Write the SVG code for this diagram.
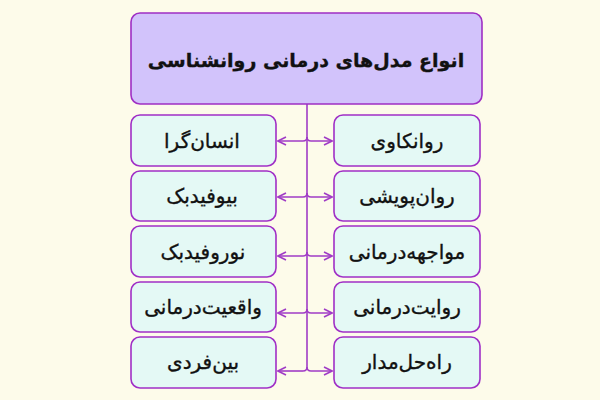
<svg xmlns="http://www.w3.org/2000/svg" width="600" height="400" viewBox="0 0 600 400">
<style>
.title rect{fill:#d2c3fb;stroke:#9f2fc4;stroke-width:1.6}
.node rect{fill:#e4f9f5;stroke:#a02fc6;stroke-width:1.6}
text{font-family:"DejaVu Sans",sans-serif;fill:#111;stroke:#111;stroke-width:0.35;text-anchor:middle;dominant-baseline:central;direction:rtl}
.title text{font-size:19px;font-weight:bold}
.node text{font-size:20px}
#connectors path{fill:none;stroke:#a03cc6;stroke-width:1.6}
</style>
<defs>
<marker id="ah" viewBox="0 0 10 10" refX="9" refY="5" markerWidth="10" markerHeight="10" markerUnits="userSpaceOnUse" orient="auto-start-reverse">
<path d="M1 1 L9 5 L1 9" fill="none" stroke="#a03cc6" stroke-width="1.6"/>
</marker>
</defs>
<rect x="0" y="0" width="600" height="400" fill="#fdfbea"/>
<g id="connectors">
<path d="M307 104 V367 Q307 371 303 371"/>
<path d="M303 371 H278" marker-end="url(#ah)"/>
<path d="M307 367 Q307 371 311 371 H332" marker-end="url(#ah)"/>
<path d="M307 137 Q307 141 303 141 H278" marker-end="url(#ah)"/>
<path d="M307 137 Q307 141 311 141 H332" marker-end="url(#ah)"/>
<path d="M307 193 Q307 197 303 197 H278" marker-end="url(#ah)"/>
<path d="M307 193 Q307 197 311 197 H332" marker-end="url(#ah)"/>
<path d="M307 252 Q307 256 303 256 H278" marker-end="url(#ah)"/>
<path d="M307 252 Q307 256 311 256 H332" marker-end="url(#ah)"/>
<path d="M307 309 Q307 313 303 313 H278" marker-end="url(#ah)"/>
<path d="M307 309 Q307 313 311 313 H332" marker-end="url(#ah)"/>
</g>
<g id="title" class="title">
<rect x="131" y="13" width="351" height="91" rx="9"/>
<text x="306" y="60">انواع مدل‌های درمانی روانشناسی</text>
</g>
<g id="n-ravankavi" class="node"><rect x="334" y="115" width="146" height="51" rx="9"/><text x="407" y="141">روانکاوی</text></g>
<g id="n-ensangara" class="node"><rect x="131" y="115" width="145" height="51" rx="9"/><text x="202" y="141">انسان‌گرا</text></g>
<g id="n-ravanpouyeshi" class="node"><rect x="334" y="171" width="146" height="50" rx="9"/><text x="407" y="196">روان‌پویشی</text></g>
<g id="n-biofeedback" class="node"><rect x="131" y="171" width="145" height="50" rx="9"/><text x="202" y="196">بیوفیدبک</text></g>
<g id="n-movajehe" class="node"><rect x="334" y="226" width="146" height="51" rx="9"/><text x="407" y="252">مواجهه‌درمانی</text></g>
<g id="n-neurofeedback" class="node"><rect x="131" y="226" width="145" height="51" rx="9"/><text x="203" y="252">نوروفیدبک</text></g>
<g id="n-revayat" class="node"><rect x="334" y="282" width="146" height="50" rx="9"/><text x="407" y="307">روایت‌درمانی</text></g>
<g id="n-vaghiat" class="node"><rect x="131" y="282" width="145" height="50" rx="9"/><text x="203" y="307">واقعیت‌درمانی</text></g>
<g id="n-rahhal" class="node"><rect x="334" y="337" width="146" height="51" rx="9"/><text x="407" y="362">راه‌حل‌مدار</text></g>
<g id="n-beinfardi" class="node"><rect x="131" y="337" width="145" height="51" rx="9"/><text x="203" y="362">بین‌فردی</text></g>
</svg>
